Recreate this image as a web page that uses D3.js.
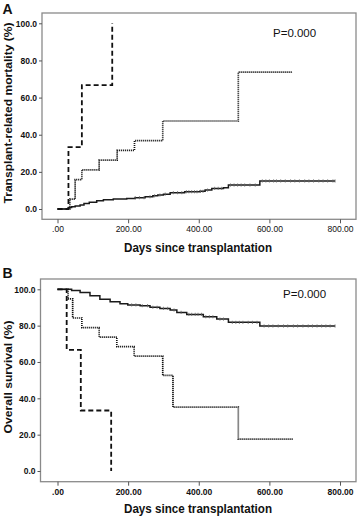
<!DOCTYPE html>
<html><head><meta charset="utf-8">
<script src="https://cdn.jsdelivr.net/npm/d3@7"></script>
<style>body{margin:0;background:#fff}svg{display:block}text{font-family:"Liberation Sans",Arial,sans-serif;fill:#111}</style>
</head><body><svg id="c" width="358" height="517"></svg>
<script>
// ---- data ----
const xTicks = [0, 200, 400, 600, 800];
const yTicks = [0, 20, 40, 60, 80, 100];
// Panel A: transplant-related mortality (cumulative %) [day, value]
const trmSolid = [[0,0],[30,0],[31,0.8],[40,1.2],[50,1.6],[64,2.2],[75,2.9],[90,3.6],[111,4.5],[130,5.0],[158,5.4],[196,5.7],[220,6.1],[248,6.6],[270,7.1],[284,7.5],[300,8.0],[319,8.8],[360,9.3],[403,9.5],[418,10.2],[437,11.1],[470,11.4],[484,12.9],[573,15.1],[786,15.1]];
const trmDotted = [[0,0],[35,5.3],[50,15.8],[69,21.1],[118,26.3],[169,31.6],[218,36.8],[298,47.4],[512,73.7],[666,73.7]];
const trmDashed = [[0,0],[31,33.3],[69,66.7],[155,100],[155,100]];
const trmCensor = [220,232,245,262,275,290,305,328,340,352,365,372,380,388,395,405,412,425,445,455,465,490,500,510,520,530,545,560,580,590,600,612,620,632,645,660,672,685,700,712,725,740,752,765,780,786];
// Panel B: overall survival (%) [day, value]
const osSolid = [[0,100],[31,100],[40,99.4],[64,98.3],[92,96.5],[120,94.5],[149,93.2],[177,92.1],[199,91.4],[234,91.0],[262,90.1],[290,89.5],[319,88.6],[338,87.3],[366,86.2],[413,84.9],[451,83.6],[484,81.8],[573,79.8],[786,79.8]];
const osDotted = [[0,100],[30,94.7],[43,84.2],[69,78.9],[118,73.7],[168,68.4],[217,63.2],[298,52.6],[327,35.1],[512,17.5],[666,17.5]];
const osDashed = [[0,100],[26,66.7],[66,33.3],[152,0],[152,0]];
const osCensor = [210,222,240,255,270,282,300,312,330,350,372,380,390,398,408,420,430,440,460,470,495,505,515,525,540,552,565,585,598,610,625,640,652,668,680,695,710,722,735,748,760,772,786];
const pText = "P=0.000";

const svg = d3.select("#c");

function stepVal(pts, t){ let v = pts[0][1]; for (const p of pts){ if (p[0] <= t) v = p[1]; } return v; }

function panel(cfg){
  const x = d3.scaleLinear().domain([0,800]).range([57.5,340]);
  const y = d3.scaleLinear().domain([0,100]).range([cfg.y0, cfg.y100]);
  const g = svg.append("g");
  g.append("rect").attr("x",cfg.fl).attr("y",cfg.ft).attr("width",356-cfg.fl).attr("height",cfg.fb-cfg.ft)
    .attr("fill","none").attr("stroke","#8a8a8a").attr("stroke-width",1.3);
  const ya = d3.axisLeft(y).tickValues(yTicks).tickFormat(d3.format(".1f")).tickSize(3).tickPadding(2);
  const yg = g.append("g").attr("transform",`translate(${cfg.fl},0)`).call(ya);
  yg.select(".domain").remove();
  yg.selectAll("line").attr("stroke","#555");
  yg.selectAll("text").attr("font-size",8.5).attr("font-weight","bold").attr("fill","#222");
  const xa = d3.axisBottom(x).tickValues(xTicks).tickFormat(d => d===0 ? ".00" : d.toFixed(2)).tickSize(4).tickPadding(3);
  const xg = g.append("g").attr("transform",`translate(0,${cfg.fb})`).call(xa);
  xg.select(".domain").remove();
  xg.selectAll("line").attr("stroke","#555");
  xg.selectAll("text").attr("font-size",8.5).attr("font-weight",cfg.xBold?"bold":"normal").attr("fill","#222");

  const line = d3.line().x(d=>x(d[0])).y(d=>y(d[1])).curve(d3.curveStepAfter);
  g.append("path").datum(cfg.solid).attr("d",line).attr("fill","none").attr("stroke","#1a1a1a").attr("stroke-width",1.5);
  g.append("path").datum(cfg.dotted).attr("d",line).attr("fill","none").attr("stroke","#111").attr("stroke-width",1.7).attr("stroke-dasharray","1.1,0.9");
  g.append("path").datum(cfg.dashed).attr("d",line).attr("fill","none").attr("stroke","#111").attr("stroke-width",1.8).attr("stroke-dasharray","5,3");
  g.selectAll(".cen").data(cfg.censor).enter().append("line")
    .attr("x1",d=>x(d)).attr("x2",d=>x(d))
    .attr("y1",d=>y(stepVal(cfg.solid,d))-1.6).attr("y2",d=>y(stepVal(cfg.solid,d))+1.6)
    .attr("stroke","#666").attr("stroke-width",0.8);

  g.append("text").attr("x",cfg.px).attr("y",cfg.py).attr("font-size",11.5).attr("fill","#222").text(pText);
  g.append("text").attr("x",2.5).attr("y",cfg.ly).attr("font-size",14).attr("font-weight","bold").text(cfg.letter);
  g.append("text").attr("x",198).attr("y",cfg.xty).attr("text-anchor","middle").attr("font-size",12.5).attr("font-weight","bold")
    .attr("textLength",148).attr("lengthAdjust","spacingAndGlyphs").text("Days since transplantation");
  g.append("text").attr("transform",`translate(12,${cfg.ytc}) rotate(-90)`).attr("text-anchor","middle").attr("font-size",11.5).attr("font-weight","bold")
    .attr("textLength",cfg.ytl).attr("lengthAdjust","spacingAndGlyphs").text(cfg.ytitle);
}

panel({letter:"A", ly:14, fl:42, ft:13, fb:219.3, y0:209, y100:23.3, xBold:false,
  solid:trmSolid, dotted:trmDotted, dashed:trmDashed, censor:trmCensor,
  px:273, py:36.5, xty:252, ytc:113, ytl:181, ytitle:"Transplant-related mortality (%)"});
panel({letter:"B", ly:278, fl:40.5, ft:279, fb:481.7, y0:471, y100:289.3, xBold:true,
  solid:osSolid, dotted:osDotted, dashed:osDashed, censor:osCensor,
  px:283, py:298, xty:513, ytc:377, ytl:113, ytitle:"Overall survival (%)"});
</script></body></html>
